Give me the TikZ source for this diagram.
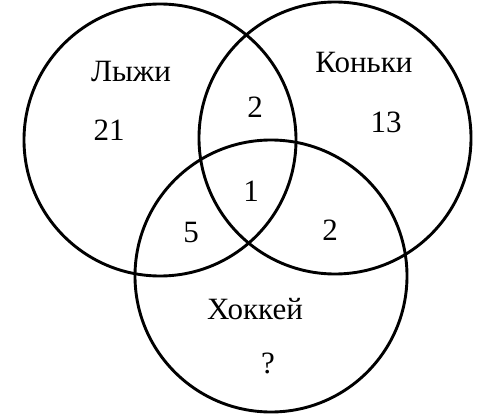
\documentclass[tikz,border=0pt]{standalone}
\usepackage{fontspec}
\setmainfont{Liberation Serif}
\begin{document}
\begin{tikzpicture}[x=1pt,y=-1pt,
  venn/.style={circle,draw=black,line width=2.9pt,minimum size=272pt,inner sep=0pt},
  lbl/.style={inner sep=0pt,font=\fontsize{31}{36}\selectfont}]
\useasboundingbox (0,0) rectangle (500,417);
\node[venn] (L) at (160,140) {};
\node[venn] (R) at (335,138) {};
\node[venn] (H) at (271,276) {};
\node[lbl] (tL) at (131,72) {Лыжи};
\node[lbl] (nL) at (109,130) {21};
\node[lbl] (tR) at (364,63) {Коньки};
\node[lbl] (nR) at (386,122) {13};
\node[lbl] (nLR) at (255,107) {2};
\node[lbl] (nLRH) at (251,191) {1};
\node[lbl] (nLH) at (191,232) {5};
\node[lbl] (nRH) at (330,230) {2};
\node[lbl] (tH) at (255,309) {Хоккей};
\node[lbl] (nH) at (268,363) {?};
\end{tikzpicture}
\end{document}
